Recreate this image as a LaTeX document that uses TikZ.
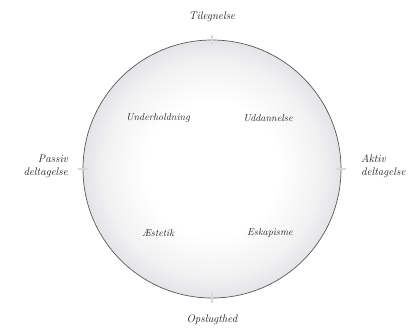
\documentclass[tikz,border=0pt]{standalone}
\usepackage{fontspec}
\usetikzlibrary{calc}
\pgfdeclareradialshading{ringshade}{\pgfpoint{0bp}{0bp}}{color(0bp)=(white); color(13bp)=(white); color(21bp)=(blue!5!gray!10); color(25bp)=(blue!6!gray!20); color(50bp)=(blue!6!gray!20)}
\tikzset{
  lbl/.style={font=\fontsize{11}{13}\selectfont\itshape, text=black!90, inner sep=0pt},
  inlbl/.style={font=\fontsize{10}{12}\selectfont\itshape, text=black!85, inner sep=0pt},
  tick/.style={draw=gray!30, line width=1.2pt}
}
\begin{document}
\begin{tikzpicture}[x=1pt,y=-1pt]
\useasboundingbox (0,0) rectangle (419,334);
\coordinate (c) at (212,169);
\node[circle, minimum size=258pt, inner sep=0pt, shading=ringshade, draw=black!65, line width=0.7pt] (disc) at (c) {};
% axis ticks
\draw[tick] ($(disc.north)+(0,-5)$) -- ($(disc.north)+(0,5)$);
\draw[tick] ($(disc.south)+(0,-5)$) -- ($(disc.south)+(0,5)$);
\draw[tick] ($(disc.west)+(-5,0)$) -- ($(disc.west)+(5,0)$);
\draw[tick] ($(disc.east)+(-5,0)$) -- ($(disc.east)+(5,0)$);
% outer labels
\node[lbl] (til) at (212,17) {Tilegnelse};
\node[lbl] (ops) at (212,320) {Opslugthed};
\node[lbl, anchor=east, align=right] (pas) at (68,166) {Passiv\\deltagelse};
\node[lbl, anchor=west, align=left] (akt) at (361,166) {Aktiv\\deltagelse};
% inner labels
\node[inlbl] (und) at (158,118) {Underholdning};
\node[inlbl] (udd) at (268,118) {Uddannelse};
\node[inlbl] (aes) at (158,233) {Æstetik};
\node[inlbl] (esk) at (270,233) {Eskapisme};
\end{tikzpicture}
\end{document}
